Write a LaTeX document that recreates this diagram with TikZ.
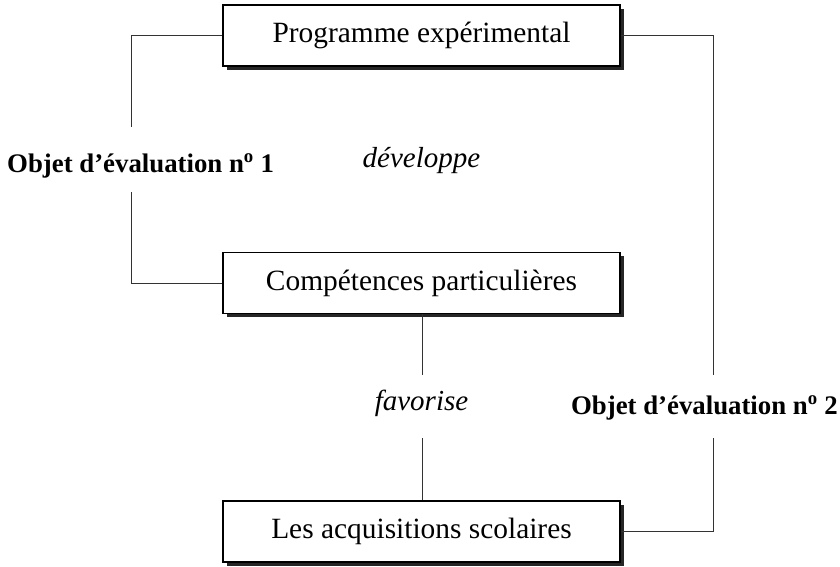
\documentclass[tikz,border=0pt]{standalone}
\usepackage{fontspec}
\setmainfont{Liberation Serif}
\usetikzlibrary{shadows}
\tikzset{
  box/.style={draw=black, line width=1.1pt, fill=white, minimum width=397pt, minimum height=61pt,
    inner sep=0pt, font=\fontsize{29.4}{34}\selectfont,
    drop shadow={shadow xshift=3.5pt, shadow yshift=-3.5pt, fill=black!85, opacity=1}},
  conn/.style={draw=black!80, line width=1pt},
  lab/.style={inner sep=0pt, font=\bfseries\fontsize{26.8}{30}\selectfont},
  verb/.style={inner sep=0pt, font=\itshape\fontsize{29}{34}\selectfont}
}
\begin{document}
\begin{tikzpicture}[x=1pt, y=-1pt]
\useasboundingbox (0,0) rectangle (840,566);
\node[box] (p1) at (421.5,35.5) {Programme expérimental};
\node[box] (p2) at (421.5,283) {Compétences particulières};
\node[box] (p3) at (421.5,531.5) {Les acquisitions scolaires};
\node[lab, anchor=base west] (l1) at (7,172) {Objet d’évaluation n\textsuperscript{o} 1};
\node[lab, anchor=base east] (l2) at (838,414) {Objet d’évaluation n\textsuperscript{o} 2};
\node[verb, anchor=base] (v1) at (421.5,167) {développe};
\node[verb, anchor=base] (v2) at (421.5,410) {favorise};
\coordinate (a1) at (131,127);
\coordinate (a2) at (131,192);
\coordinate (b1) at (713,375);
\coordinate (b2) at (713,438);
\coordinate (c1) at (422,375);
\coordinate (c2) at (422,438);
\draw[conn] (p1.west) -| (a1);
\draw[conn] (a2) |- (p2.west);
\draw[conn] (p1.east) -| (b1);
\draw[conn] (b2) |- (p3.east);
\draw[conn] (p2.south -| c1) -- (c1);
\draw[conn] (c2) -- (p3.north -| c2);
\end{tikzpicture}
\end{document}
